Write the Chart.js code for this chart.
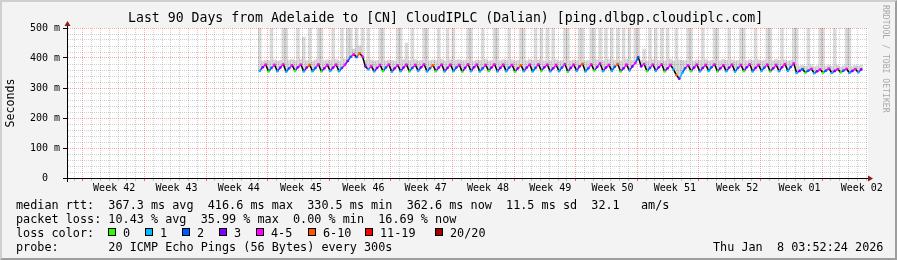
<!DOCTYPE html>
<html>
<head>
<meta charset="utf-8">
<script src="https://cdn.jsdelivr.net/npm/chart.js@4.4.1/dist/chart.umd.min.js"></script>
<style>
  html, body { margin: 0; padding: 0; background: #f3f3f3; }
  #wrap { position: relative; width: 897px; height: 260px; overflow: hidden; font-family: 'DejaVu Sans Mono', monospace; color: #000; }
  #wrap canvas { position: absolute; left: 0; top: 0; }
  .txt { position: absolute; white-space: pre; font-size: 11.8px; line-height: 14px; }
  #title { position: absolute; left: 128px; top: 10px; font-size: 13.2px; line-height: 16px; white-space: pre; }
  #credit { position: absolute; left: 881px; top: 5px; font-size: 8.15px; line-height: 10px; color: #a8a8a8; writing-mode: vertical-rl; white-space: pre; }
  .box { position: absolute; top: 228px; width: 8px; height: 8px; box-sizing: border-box; border: 1px solid #000; }
  #frame { position: absolute; left: 0; top: 0; width: 897px; height: 260px; box-sizing: border-box; border: 2px solid; border-color: #cfcfcf #9e9e9e #9e9e9e #cfcfcf; }
</style>
</head>
<body>
<div id="wrap">
  <canvas id="smoke" width="897" height="260"></canvas>
  <div id="title">Last 90 Days from Adelaide to [CN] CloudIPLC (Dalian) [ping.dlbgp.cloudiplc.com]</div>
  <div id="credit">RRDTOOL / TOBI OETIKER</div>
  <div class="txt" style="left:16px; top:198px">median rtt:  367.3 ms avg  416.6 ms max  330.5 ms min  362.6 ms now  11.5 ms sd  32.1   am/s</div>
  <div class="txt" style="left:16px; top:212px">packet loss: 10.43 % avg  35.99 % max  0.00 % min  16.69 % now</div>
  <div class="txt" style="left:16px; top:226px">loss color:</div>
  <div id="lossLegend"></div>
  <div class="txt" style="left:16px; top:240px">probe:       20 ICMP Echo Pings (56 Bytes) every 300s</div>
  <div class="txt" style="left:713px; top:240px">Thu Jan  8 03:52:24 2026</div>
  <div id="frame"></div>
</div>
<script>
// x axis is in days since the left edge of the 90 day window
const weekLabels = ['Week 42', 'Week 43', 'Week 44', 'Week 45', 'Week 46', 'Week 47', 'Week 48',
  'Week 49', 'Week 50', 'Week 51', 'Week 52', 'Week 01', 'Week 02'];
const yTicks = [0, 100, 200, 300, 400, 500];

const lossLabels = ['0', '1', '2', '3', '4-5', '6-10', '11-19', '20/20'];
const lossUpTo = [0, 1, 2, 3, 5, 10, 19, 20];
const lossColors = ['#26ff00', '#00b8ff', '#0059ff', '#7e00ff', '#ff00ff', '#ff5500', '#ff0000', '#a10000'];

// three samples per day, starting day 21.4
const firstSampleDay = 21.4;
const samplesPerDay = 3;

// median rtt (ms)
const medianMs = [
  357, 369, 378, 355, 367, 377, 356, 368, 379, 354, 366, 376, 357, 369, 378, 355, 368, 377, 356, 367, 379,
  355, 366, 377, 357, 368, 378, 356, 367, 377, 390, 404, 412, 403, 416, 405, 372, 362, 373, 355, 367, 377,
  356, 368, 378, 354, 366, 376, 356, 368, 378, 355, 367, 377, 357, 369, 379, 355, 366, 376, 356, 368, 378,
  355, 367, 378, 356, 368, 377, 354, 367, 379, 356, 369, 378, 355, 366, 377, 357, 368, 379, 355, 367, 378,
  356, 368, 377, 354, 366, 376, 356, 368, 378, 355, 367, 379, 357, 369, 378, 355, 366, 377, 356, 368, 380,
  354, 367, 378, 357, 372, 381, 355, 366, 379, 358, 370, 382, 356, 368, 377, 357, 371, 380, 355, 366, 378,
  358, 372, 383, 403, 372, 380, 356, 367, 378, 357, 369, 379, 355, 366, 377, 362, 343, 331, 350, 366, 376,
  356, 368, 378, 355, 367, 377, 357, 369, 379, 355, 366, 376, 356, 368, 378, 354, 367, 377, 356, 369, 379,
  355, 367, 377, 357, 368, 378, 355, 366, 377, 356, 369, 380, 357, 370, 382, 350, 357, 363, 351, 358, 364,
  349, 356, 362, 351, 358, 365, 350, 357, 363, 352, 358, 364, 350, 357, 363, 352, 362
];

// lost pings out of 20
const lossPings = [
  1, 3, 5, 0, 2, 5, 1, 3, 5, 1, 2, 4, 0, 3, 5, 1, 3, 7, 1, 2, 5,
  0, 3, 5, 1, 3, 5, 1, 2, 5, 3, 2, 5, 2, 7, 5, 3, 1, 5, 1, 3, 5,
  0, 2, 5, 1, 3, 5, 1, 3, 4, 0, 2, 5, 1, 3, 5, 1, 2, 7, 0, 3, 5,
  1, 3, 5, 1, 2, 5, 0, 3, 5, 1, 3, 4, 1, 2, 5, 0, 3, 5, 1, 3, 5,
  1, 2, 5, 0, 3, 7, 1, 3, 5, 1, 2, 5, 0, 3, 5, 1, 3, 4, 1, 2, 5,
  0, 3, 5, 1, 3, 7, 1, 2, 5, 0, 3, 5, 1, 3, 5, 1, 2, 7, 0, 3, 5,
  1, 3, 5, 2, 3, 5, 0, 2, 5, 1, 3, 5, 0, 3, 4, 1, 7, 3, 1, 2, 5,
  0, 3, 5, 1, 3, 5, 1, 2, 5, 0, 3, 4, 1, 3, 5, 1, 2, 5, 0, 3, 5,
  1, 3, 5, 1, 2, 5, 0, 3, 5, 1, 3, 5, 1, 2, 5, 1, 3, 2, 0, 2, 5,
  1, 3, 5, 0, 2, 4, 1, 3, 5, 0, 2, 5, 1, 3, 5, 1, 3
];

// slowest ping of each sample (ms), top of the smoke
const maxMs = [
  520, 390, 393, 392, 520, 394, 390, 392, 520, 520, 393, 396, 391, 520, 395, 470, 391, 520, 390, 394, 520,
  520, 391, 394, 392, 520, 395, 390, 520, 396, 520, 520, 430, 520, 440, 520, 393, 520, 394, 390, 392, 520,
  520, 391, 394, 392, 390, 520, 520, 394, 450, 391, 520, 395, 390, 392, 520, 520, 391, 394, 392, 520, 396,
  390, 520, 394, 520, 392, 395, 391, 393, 520, 520, 390, 394, 392, 520, 396, 390, 392, 520, 520, 391, 395,
  392, 520, 394, 390, 393, 520, 520, 391, 396, 392, 520, 394, 520, 390, 520, 391, 520, 395, 390, 392, 520,
  520, 391, 394, 392, 520, 520, 390, 392, 520, 520, 394, 520, 391, 520, 395, 520, 392, 520, 390, 520, 396,
  520, 392, 520, 520, 393, 430, 390, 520, 395, 520, 392, 520, 391, 520, 396, 390, 520, 394, 392, 391, 520,
  520, 390, 394, 392, 520, 395, 390, 392, 520, 520, 391, 396, 392, 520, 394, 390, 392, 520, 520, 391, 395,
  392, 520, 394, 390, 393, 520, 520, 391, 396, 392, 520, 394, 390, 392, 520, 520, 373, 376, 372, 520, 377,
  370, 374, 520, 520, 373, 377, 372, 520, 376, 370, 374, 520, 520, 372, 376, 373, 376
];

const FONT = "'DejaVu Sans Mono', monospace";
const majorGrid = 'rgba(255, 0, 0, 0.35)';
const minorGrid = 'rgba(120, 120, 120, 0.35)';

function lossColor(n) {
  for (let i = 0; i < lossUpTo.length; i++) {
    if (n <= lossUpTo[i]) return lossColors[i];
  }
  return lossColors[lossColors.length - 1];
}

// loss colour legend
const legendX = [108, 145, 182, 219, 256, 308, 365, 435];
const legendEl = document.getElementById('lossLegend');
lossLabels.forEach((lbl, i) => {
  const b = document.createElement('div');
  b.className = 'box';
  b.style.left = legendX[i] + 'px';
  b.style.background = lossColors[i];
  legendEl.appendChild(b);
  const t = document.createElement('div');
  t.className = 'txt';
  t.style.left = (legendX[i] + 15) + 'px';
  t.style.top = '226px';
  t.textContent = lbl;
  legendEl.appendChild(t);
});

const sampleDay = i => firstSampleDay + i / samplesPerDay;
const medianPoints = medianMs.map((m, i) => ({ x: sampleDay(i), y: m }));
const smokeBars = medianMs.map((m, i) => ({ x: sampleDay(i), y: [m, maxMs[i]] }));

// grid positions: one line per day, red line each Monday
const dayLines = [];
for (let d = 0.8; d < 90; d += 1) dayLines.push(+d.toFixed(2));
const isWeekLine = i => (i - 1) % 7 === 0;

const background = {
  id: 'background',
  beforeDraw(chart) {
    const { ctx, chartArea: a } = chart;
    ctx.save();
    ctx.fillStyle = '#f3f3f3';
    ctx.fillRect(0, 0, chart.width, chart.height);
    ctx.fillStyle = '#ffffff';
    ctx.fillRect(a.left, a.top, a.right - a.left, a.bottom - a.top);
    ctx.restore();
  }
};

const axisArrows = {
  id: 'axisArrows',
  afterDraw(chart) {
    const { ctx, chartArea: a } = chart;
    const x0 = Math.round(a.left) + 0.5;
    const y0 = Math.round(a.bottom) + 0.5;
    ctx.save();
    ctx.strokeStyle = '#000';
    ctx.lineWidth = 1;
    ctx.beginPath();
    ctx.moveTo(x0, a.bottom + 4);
    ctx.lineTo(x0, a.top - 3);
    ctx.moveTo(a.left - 4, y0);
    ctx.lineTo(a.right + 2, y0);
    ctx.stroke();
    ctx.fillStyle = '#8b1a1a';
    ctx.beginPath();
    ctx.moveTo(x0, a.top - 7);
    ctx.lineTo(x0 - 3, a.top - 2);
    ctx.lineTo(x0 + 3, a.top - 2);
    ctx.closePath();
    ctx.fill();
    ctx.beginPath();
    ctx.moveTo(a.right + 5, y0);
    ctx.lineTo(a.right, y0 - 3);
    ctx.lineTo(a.right, y0 + 3);
    ctx.closePath();
    ctx.fill();
    ctx.restore();
  }
};

new Chart(document.getElementById('smoke'), {
  type: 'line',
  data: {
    datasets: [
      {
        type: 'line',
        label: 'median rtt',
        data: medianPoints,
        borderColor: '#000',
        borderWidth: 1.5,
        pointRadius: 1.3,
        pointBorderWidth: 0,
        pointBackgroundColor: ctx => lossColor(lossPings[ctx.dataIndex]),
        tension: 0,
        order: 1,
        segment: {
          borderColor: ctx => (ctx.p1.parsed.y < ctx.p0.parsed.y - 8)
            ? '#000'
            : lossColor(lossPings[ctx.p1DataIndex])
        }
      },
      {
        type: 'bar',
        label: 'smoke',
        data: smokeBars,
        backgroundColor: 'rgba(0, 0, 0, 0.14)',
        borderWidth: 0,
        barPercentage: 1,
        categoryPercentage: 1,
        grouped: false,
        order: 2
      }
    ]
  },
  options: {
    responsive: false,
    animation: false,
    devicePixelRatio: 1,
    layout: { padding: { left: 0, top: 28, right: 29, bottom: 64 } },
    plugins: { legend: { display: false }, tooltip: { enabled: false } },
    scales: {
      x: {
        type: 'linear',
        min: 0,
        max: 90,
        afterBuildTicks: s => { s.ticks = dayLines.map(v => ({ value: v })); },
        ticks: { display: false },
        grid: {
          color: ctx => isWeekLine(ctx.index) ? majorGrid : minorGrid,
          tickColor: ctx => isWeekLine(ctx.index) ? 'rgba(255, 0, 0, 0.6)' : 'rgba(120, 120, 120, 0.4)',
          tickLength: 3,
          lineWidth: 1
        },
        border: { color: '#000', dash: [1, 1] },
        afterFit: s => { s.height = 4; }
      },
      xLab: {
        type: 'linear',
        position: 'bottom',
        min: 0,
        max: 90,
        afterBuildTicks: s => { s.ticks = weekLabels.map((_, i) => ({ value: 5.3 + 7 * i })); },
        ticks: {
          autoSkip: false,
          maxRotation: 0,
          padding: 0,
          color: '#000',
          font: { family: FONT, size: 10 },
          callback: (v, i) => weekLabels[i]
        },
        grid: { display: false, drawTicks: false },
        border: { display: false },
        afterFit: s => { s.height = 14; }
      },
      y: {
        min: 0,
        max: 500,
        ticks: {
          stepSize: 20,
          autoSkip: false,
          padding: 3,
          color: '#000',
          font: { family: FONT, size: 10 },
          callback: v => yTicks.includes(v) ? (v === 0 ? '0  ' : v + ' m') : ''
        },
        grid: {
          color: ctx => yTicks.includes(ctx.tick.value) ? majorGrid : minorGrid,
          tickColor: ctx => yTicks.includes(ctx.tick.value) ? '#000' : 'transparent',
          tickLength: 4,
          lineWidth: 1
        },
        border: { color: '#000', dash: [1, 1] },
        title: {
          display: true,
          text: 'Seconds',
          color: '#000',
          font: { family: FONT, size: 11.6 },
          padding: { top: 4, bottom: 0 }
        },
        afterFit: s => { s.width = 67; }
      }
    }
  },
  plugins: [background, axisArrows]
});
</script>
</body>
</html>
